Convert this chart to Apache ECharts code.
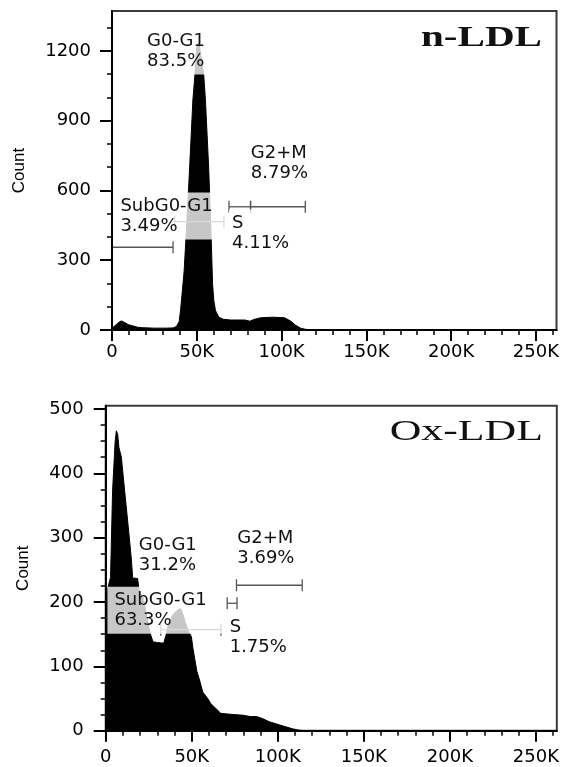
<!DOCTYPE html>
<html><head><meta charset="utf-8">
<script src="https://cdn.jsdelivr.net/npm/echarts@6/dist/echarts.min.js"></script>
<style>html,body{margin:0;padding:0;background:#fff}#c{width:562px;height:767px}</style>
</head><body><div id="c"></div>
<script>
// ---------------- DATA ----------------
// DNA content channel (in thousands) and cell counts
const xTickValues = [0, 50, 100, 150, 200, 250];
const xTickLabels = ['0', '50K', '100K', '150K', '200K', '250K'];
const xMinorValues = [10,20,30,40,60,70,80,90,110,120,130,140,160,170,180,190,210,220,230,240,260];
const channelMax = 262.144;

const nLdlYTicks = [0, 300, 600, 900, 1200];
const nLdlYMinor = [100, 200, 400, 500, 700, 800, 1000, 1100, 1300];
const oxLdlYTicks = [0, 100, 200, 300, 400, 500];
const oxLdlYMinor = [25,50,75,125,150,175,225,250,275,325,350,375,425,450,475];

const nLdlChannel = [0,2,4,5.6,7.5,10,12,15,18,25,32,36,38,39.6,40.5,41,41.5,42.5,43.8,45.8,47.7,48.9,49.8,50.4,51.5,53,54.1,55.1,57,58.4,59.3,60,61,61.7,63,65.8,70,78.4,81.3,84,88,95,101.7,105.5,108,111.4,115,119,262];
const nLdlCount   = [8,20,33,39,32,22,18,12,10,8,8,9,15,36,90,129,170,250,417,701,989,1097,1200,1234,1225,1150,1097,989,701,417,200,129,85,73,55,46,43,43,38,46,53,55,53,38,22,7,2,0,0];

const oxLdlChannel = [0,1,2,2.8,4,5.5,6.2,7,7.7,9.1,11,12.9,14.8,15.7,18.5,19.5,22,24,26,27.5,30,33.7,35,36.5,38.5,40.3,42.2,43.5,45,46,48,49.8,50.7,51.7,53,54.5,56.4,59.3,61.1,65,66.8,70.6,75,80,84,87.7,91,95,101,104.7,108.5,112,115,262];
const oxLdlCount   = [205,218,230,238,373,450,466,460,440,425,373,322,270,237,237,218,205,175,150,138,137,136,148,167,178,184,188,190,180,170,155,146,128,112,92,79,60,50,42,32,27,26,25,24,22,22,19,14,9,6,3,1,0,0];

const gateNames = ['SubG0-G1', 'G0-G1', 'S', 'G2+M'];
const nLdlPercent  = ['3.49%', '83.5%', '4.11%', '8.79%'];
const oxLdlPercent = ['63.3%', '31.2%', '1.75%', '3.69%'];
// gate brackets: from, to (channel K), drawn at count level
const nLdlGateFrom  = [0, 37, 69, 81.7];
const nLdlGateTo    = [36, 66, 81.7, 114];
const nLdlGateLevel = [356, 466, 530, 530];
const oxLdlGateNames = ['G0-G1', 'S', 'G2+M'];
const oxLdlGateFrom  = [32, 70.6, 76];
const oxLdlGateTo    = [67, 76.3, 114.2];
const oxLdlGateLevel = [157, 198, 226];

// ---------------- LAYOUT (annotation anchors in data coords, box top-left) ----------------
const nLdlLabelAnchor  = {'SubG0-G1':[2.9,589], 'G0-G1':[19.2,1299], 'S':[69.3,516], 'G2+M':[80.4,817]};
const oxLdlLabelAnchor = {'SubG0-G1':[1.3,222.8], 'G0-G1':[17.8,309.6], 'S':[70.6,180.9], 'G2+M':[75.0,320.5]};
const labelPadding = {'SubG0-G1':[4,14,3,4], 'G0-G1':[4,4,3,3], 'S':[4,4,3,3], 'G2+M':[4,4,3,3]};
const oxLabelPadding = {'SubG0-G1':[4,16,3,7], 'G0-G1':[4,4,3,3], 'S':[4,4,3,3], 'G2+M':[4,4,3,3]};

// ---------------- CHART ----------------
const TXT = '#000';
const GATE = '#555';
const zip = (a, b) => a.map((v, i) => [v, b[i]]);

function gateRender(params, api) {
  const a = api.coord([api.value(0), api.value(2)]);
  const b = api.coord([api.value(1), api.value(2)]);
  const h = 6;
  const st = {stroke: GATE, lineWidth: 1.3};
  return {type: 'group', children: [
    {type: 'line', shape: {x1: a[0], y1: a[1], x2: b[0], y2: b[1]}, style: st},
    {type: 'line', shape: {x1: a[0], y1: a[1] - h, x2: a[0], y2: a[1] + h}, style: st},
    {type: 'line', shape: {x1: b[0], y1: b[1] - h, x2: b[0], y2: b[1] + h}, style: st}
  ]};
}

function xAxes(gi, margin) {
  return [
    {type: 'value', gridIndex: gi, min: 0, max: channelMax, position: 'bottom', z: 10,
     axisLine: {show: true, lineStyle: {color: '#000', width: 2}},
     axisTick: {show: true, length: 11, lineStyle: {color: '#000', width: 2}, customValues: xTickValues},
     axisLabel: {show: true, customValues: xTickValues, margin: margin, color: TXT, fontFamily: 'DejaVu Sans', fontSize: 18,
       formatter: v => xTickLabels[xTickValues.indexOf(v)]},
     splitLine: {show: false}},
    {type: 'value', gridIndex: gi, min: 0, max: channelMax, position: 'bottom', z: 10,
     axisLine: {show: false}, axisLabel: {show: false}, splitLine: {show: false},
     axisTick: {show: true, length: 5, lineStyle: {color: '#000', width: 1.5}, customValues: xMinorValues}}
  ];
}
function yAxes(gi, max, ticks, minor, margin, nameGap) {
  return [
    {type: 'value', gridIndex: gi, min: 0, max: max, position: 'left', z: 10,
     name: 'Count', nameLocation: 'middle', nameRotate: 90, nameGap: nameGap,
     nameTextStyle: {fontFamily: 'Liberation Sans', fontSize: 17, color: TXT},
     axisLine: {show: true, lineStyle: {color: '#000', width: 2}},
     axisTick: {show: true, length: 12, lineStyle: {color: '#000', width: 2}, customValues: ticks},
     axisLabel: {show: true, customValues: ticks, margin: margin, color: TXT, fontFamily: 'DejaVu Sans', fontSize: 18,
       formatter: v => String(v)},
     splitLine: {show: false}},
    {type: 'value', gridIndex: gi, min: 0, max: max, position: 'left', z: 10,
     axisLine: {show: false}, axisLabel: {show: false}, splitLine: {show: false},
     axisTick: {show: true, length: 5, lineStyle: {color: '#000', width: 1.5}, customValues: minor}}
  ];
}

function labelData(names, pcts, anchors, pads) {
  return names.map((n, i) => ({
    value: [anchors[n][0], anchors[n][1], n + '\n' + pcts[i]],
    label: {padding: pads[n]}
  }));
}

const labelStyle = {
  show: true, position: [0, 0], align: 'left', verticalAlign: 'top',
  formatter: p => p.data.value[2],
  fontFamily: 'DejaVu Sans', fontSize: 18, lineHeight: 20, color: '#111',
  backgroundColor: 'rgba(255,255,255,0.78)'
};

const option = {
  animation: false,
  backgroundColor: '#fff',
  grid: [
    {left: 112, top: 11, width: 450, height: 319, show: true, borderColor: '#3a3a3a', borderWidth: 2, containLabel: false},
    {left: 105.7, top: 405.7, width: 461.4, height: 325, show: true, borderColor: '#3a3a3a', borderWidth: 2, containLabel: false}
  ],
  xAxis: [...xAxes(0, 13), ...xAxes(1, 18)],
  yAxis: [...yAxes(0, 1372, nLdlYTicks, nLdlYMinor, 21, 84), ...yAxes(1, 505, oxLdlYTicks, oxLdlYMinor, 22, 74)],
  series: [
    {type: 'line', xAxisIndex: 0, yAxisIndex: 0, data: zip(nLdlChannel, nLdlCount), showSymbol: false, symbol: 'none', z: 2,
     lineStyle: {color: '#000', width: 1}, areaStyle: {color: '#000', opacity: 1}},
    {type: 'line', xAxisIndex: 2, yAxisIndex: 2, data: zip(oxLdlChannel, oxLdlCount), showSymbol: false, symbol: 'none', z: 2,
     lineStyle: {color: '#000', width: 1}, areaStyle: {color: '#000', opacity: 1}},
    {type: 'custom', xAxisIndex: 0, yAxisIndex: 0, z: 3, renderItem: gateRender, encode: {x: [0, 1], y: 2},
     data: gateNames.map((n, i) => [nLdlGateFrom[i], nLdlGateTo[i], nLdlGateLevel[i]])},
    {type: 'custom', xAxisIndex: 2, yAxisIndex: 2, z: 3, renderItem: gateRender, encode: {x: [0, 1], y: 2},
     data: oxLdlGateNames.map((n, i) => [oxLdlGateFrom[i], oxLdlGateTo[i], oxLdlGateLevel[i]])},
    {type: 'scatter', xAxisIndex: 0, yAxisIndex: 0, z: 5, symbolSize: 1, itemStyle: {color: 'transparent', opacity: 1},
     label: labelStyle, data: labelData(gateNames, nLdlPercent, nLdlLabelAnchor, labelPadding)},
    {type: 'scatter', xAxisIndex: 2, yAxisIndex: 2, z: 5, symbolSize: 1, itemStyle: {color: 'transparent', opacity: 1},
     label: labelStyle, data: labelData(gateNames, oxLdlPercent, oxLdlLabelAnchor, oxLabelPadding)}
  ],
  graphic: [
    {type: 'text', x: 542, y: 38, scaleX: 1.37, z: 20,
     style: {text: 'n-LDL', font: 'bold 30px "Liberation Serif"', fill: '#111', textAlign: 'right', align: 'right', textVerticalAlign: 'middle', verticalAlign: 'middle'}},
    {type: 'text', x: 543, y: 432, scaleX: 1.46, z: 20,
     style: {text: 'Ox-LDL', font: '30px "Liberation Serif"', fill: '#111', textAlign: 'right', align: 'right', textVerticalAlign: 'middle', verticalAlign: 'middle'}}
  ]
};

const chart = echarts.init(document.getElementById('c'), null, {renderer: 'canvas'});
chart.setOption(option);
</script></body></html>
